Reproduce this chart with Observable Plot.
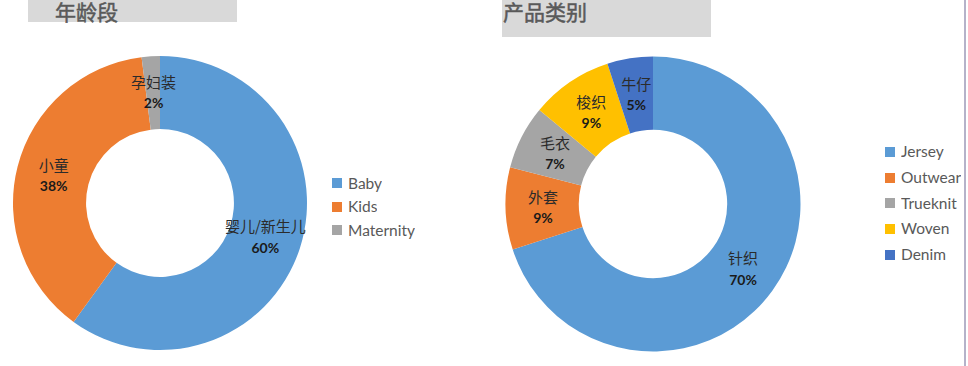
<!DOCTYPE html>
<html>
<head>
<meta charset="utf-8">
<script src="https://cdn.jsdelivr.net/npm/d3@7"></script>
<script src="https://cdn.jsdelivr.net/npm/@observablehq/plot@0.6"></script>
<style>
  html, body { margin: 0; padding: 0; background: #fff; }
  #wrap { position: relative; width: 968px; height: 366px; overflow: hidden; background: #fff; }
  .chart { position: absolute; top: 0; }
  .title { position: absolute; top: 0; background: #d9d9d9; color: #595959; z-index: 5;
           font-family: "Noto Sans CJK SC", sans-serif; font-weight: normal; font-size: 21px;
           -webkit-text-stroke: 0.5px #595959; }
  .title span { position: absolute; top: -4px; line-height: normal; white-space: nowrap; }
  .leg { position: absolute; z-index: 5; }
  .leg [class$="-swatch"] { padding-bottom: 0 !important; }
  .leg svg { margin-right: 6px !important; }
  #legA [class$="-swatch"] { line-height: 23.5px !important; height: 23.5px; }
  #legB [class$="-swatch"] { line-height: 25.8px !important; height: 25.8px; }
  #vline { position: absolute; left: 964px; top: 0; width: 2px; height: 366px; background: #b5b2c9; }
</style>
</head>
<body>
<div id="wrap">
  <div id="chartA" class="chart" style="left:0"></div>
  <div id="chartB" class="chart" style="left:484px"></div>
  <div class="title" style="left:28px; width:209px; height:22px;"><span style="left:27px;">年龄段</span></div>
  <div class="title" style="left:502px; width:209px; height:37px;"><span style="left:1px;">产品类别</span></div>
  <div id="legA" class="leg" style="left:332px; top:171.5px;"></div>
  <div id="legB" class="leg" style="left:885px; top:139px;"></div>
  <div id="vline"></div>
</div>
<script>
// ---- Data ----
const ageCategories = ["Baby", "Kids", "Maternity"];
const ageLabels = ["婴儿/新生儿", "小童", "孕妇装"];
const ageValues = [60, 38, 2];

const productCategories = ["Jersey", "Outwear", "Trueknit", "Woven", "Denim"];
const productLabels = ["针织", "外套", "毛衣", "梭织", "牛仔"];
const productValues = [70, 9, 7, 9, 5];

// ---- Styles ----
const ageColors = ["#5b9bd5", "#ed7d31", "#a5a5a5"];
const productColors = ["#5b9bd5", "#ed7d31", "#a5a5a5", "#ffc000", "#4472c4"];

function donut({cats, labels, values, colors, cx, cy, r, width}) {
  const data = cats.map((c, i) => ({cat: c, label: labels[i], value: values[i]}));
  const pie = d3.pie().sort(null).value(d => d.value)(data);
  const unitArc = d3.arc().innerRadius(0.5).outerRadius(1);
  pie.forEach(a => { const [ux, uy] = unitArc.centroid(a); a.data.ux = ux; a.data.uy = -uy; });
  const colorOf = new Map(cats.map((c, i) => [c, colors[i]]));

  const wedges = (index, scales) => {
    const x0 = scales.x(0), y0 = scales.y(0), R = scales.x(1) - scales.x(0);
    const arc = d3.arc().innerRadius(R * 0.503).outerRadius(R);
    const g = d3.create("svg:g").attr("transform", `translate(${x0},${y0})`);
    g.selectAll("path").data(pie).join("path")
      .attr("d", arc)
      .attr("fill", d => colorOf.get(d.data.cat));
    return g.node();
  };

  return Plot.plot({
    width, height: 366,
    margin: 0,
    style: {background: "transparent"},
    x: {domain: [-1, 1], range: [cx - r, cx + r], axis: null},
    y: {domain: [-1, 1], range: [cy + r, cy - r], axis: null},
    marks: [
      wedges,
      Plot.text(data, {x: "ux", y: "uy", text: "label", dy: -10,
        fontFamily: "Noto Sans CJK SC, sans-serif", fontSize: 15, fill: "#2b2b2b"}),
      Plot.text(data, {x: "ux", y: "uy", text: d => `${d.value}%`, dy: 10.5,
        fontFamily: "Lato, sans-serif", fontSize: 14, fontWeight: "bold", fill: "#1a1a1a"})
    ]
  });
}

document.getElementById("chartA").append(donut({
  cats: ageCategories, labels: ageLabels, values: ageValues, colors: ageColors,
  cx: 160, cy: 203, r: 147, width: 484
}));
document.getElementById("chartB").append(donut({
  cats: productCategories, labels: productLabels, values: productValues, colors: productColors,
  cx: 169, cy: 204, r: 147.5, width: 484
}));

const legendStyle = {fontFamily: "Lato, sans-serif", fontSize: "15.5px", color: "#595959", margin: 0, background: "transparent"};
document.getElementById("legA").append(Plot.legend({
  color: {type: "ordinal", domain: ageCategories, range: ageColors},
  legend: "swatches", columns: 1, swatchSize: 10, style: legendStyle
}));
document.getElementById("legB").append(Plot.legend({
  color: {type: "ordinal", domain: productCategories, range: productColors},
  legend: "swatches", columns: 1, swatchSize: 10, style: legendStyle
}));
</script>
</body>
</html>
